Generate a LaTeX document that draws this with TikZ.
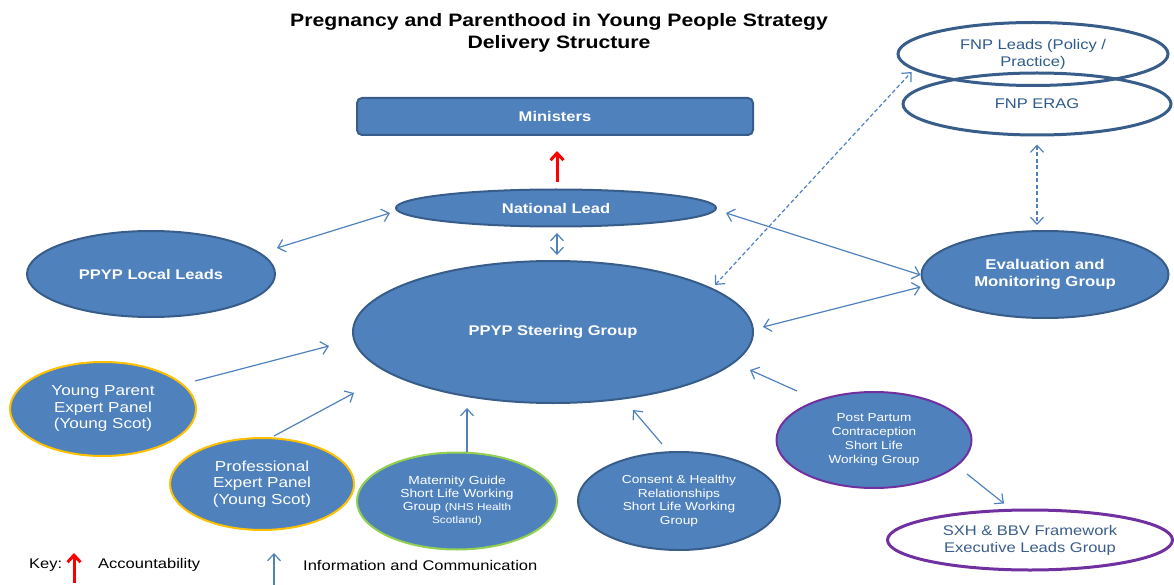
\documentclass[tikz,border=0pt]{standalone}
\usepackage{fontspec}
\setmainfont{Liberation Sans}[FakeStretch=1.18]
\usetikzlibrary{shapes.geometric,arrows.meta}
\definecolor{ppblue}{HTML}{4F81BD}
\definecolor{ppedge}{HTML}{385D8A}
\definecolor{pporange}{HTML}{FFC000}
\definecolor{ppgreen}{HTML}{92D050}
\definecolor{pppurple}{HTML}{7030A0}
\definecolor{pptext}{HTML}{2E5A8C}
\begin{document}
\begin{tikzpicture}[x=1pt,y=-1pt,
	blob/.style={ellipse,fill=ppblue,draw=ppedge,line width=2pt,text=white,align=center,inner sep=0pt},
	ring/.style={ellipse,draw=ppedge,line width=3pt,text=pptext,align=center,inner sep=0pt},
	info/.style={draw=ppblue,line width=1.2pt,-{Straight Barb[length=7pt,width=13pt]}},
	infoboth/.style={info,{Straight Barb[length=7pt,width=13pt]}-{Straight Barb[length=7pt,width=13pt]}},
	infodash/.style={infoboth,dash pattern=on 4pt off 2.5pt},
	account/.style={draw=red,line width=3pt,-{Straight Barb[length=7pt,width=13pt]}},
	keytext/.style={font=\fontsize{14}{16}\selectfont,anchor=west,inner sep=0pt}]
	\useasboundingbox (0,0) rectangle (1174,585);
	\node[font=\fontsize{18}{22}\selectfont\bfseries,align=center] (title) at (559,33)
	{Pregnancy and Parenthood in Young People Strategy\\Delivery Structure};
	% boxes
	\node[fill=ppblue,draw=ppedge,line width=2pt,rounded corners=5pt,text=white,
	minimum width=396pt,minimum height=37pt,font=\fontsize{14}{16}\selectfont\bfseries] (mins) at (555,116.5) {Ministers};
	\node[blob,minimum width=320pt,minimum height=37pt,font=\fontsize{14}{16}\selectfont\bfseries] (natlead) at (556,208) {National Lead};
	\node[blob,minimum width=400pt,minimum height=142pt,font=\fontsize{14}{16}\selectfont\bfseries] (steer) at (553,332) {PPYP Steering Group};
	\node[blob,minimum width=248pt,minimum height=86pt,font=\fontsize{14}{16}\selectfont\bfseries] (local) at (151,274) {PPYP Local Leads};
	\node[blob,minimum width=247pt,minimum height=87pt,font=\fontsize{14.2}{17}\selectfont\bfseries] (evalm) at (1045,274.5) {Evaluation and\\Monitoring Group};
	\node[ring,minimum width=270pt,minimum height=63pt,font=\fontsize{14}{17}\selectfont] (fnpl) at (1033,54) {FNP Leads (Policy /\\Practice)};
	\node[ring,minimum width=268pt,minimum height=62pt,font=\fontsize{14}{17}\selectfont] (erag) at (1037,104) {FNP ERAG};
	\node[blob,draw=pporange,minimum width=186pt,minimum height=94pt,font=\fontsize{14.5}{16.5}\selectfont] (yparent) at (103,409) {Young Parent\\Expert Panel\\(Young Scot)};
	\node[blob,draw=pporange,minimum width=184pt,minimum height=92pt,font=\fontsize{14.5}{16.5}\selectfont] (profx) at (262,484) {Professional\\Expert Panel\\(Young Scot)};
	\node[blob,draw=ppgreen,minimum width=200pt,minimum height=97pt,font=\fontsize{11.7}{13}\selectfont] (mat) at (457,501)
	{Maternity Guide\\Short Life Working\\Group {\fontsize{10}{13}\selectfont(NHS Health}\\{\fontsize{10}{13}\selectfont Scotland)}};
	\node[blob,minimum width=202pt,minimum height=98pt,font=\fontsize{11.6}{13.5}\selectfont] (consent) at (679,501) {Consent \& Healthy\\Relationships\\Short Life Working\\Group};
	\node[blob,draw=pppurple,minimum width=195pt,minimum height=96pt,font=\fontsize{11.5}{14}\selectfont] (postp) at (874,440) {Post Partum\\Contraception\\Short Life\\Working Group};
	\node[ring,draw=pppurple,text=ppedge,minimum width=285pt,minimum height=60pt,font=\fontsize{14}{17}\selectfont] (sxh) at (1030,540) {SXH \& BBV Framework\\Executive Leads Group};
	% links
	\draw[account] ([xshift=1pt,yshift=6.5pt]natlead.north) -- ([xshift=2pt,yshift=-15pt]mins.south);
	\draw[infoboth] ([xshift=1pt,yshift=26pt]local.east) -- ([xshift=-5pt,yshift=-5pt]natlead.west);
	\draw[infoboth] ([xshift=1pt,yshift=-5.5pt]natlead.south) -- ([xshift=4pt,yshift=5pt]steer.north);
	\draw[infoboth] ([xshift=9pt,yshift=-5pt]natlead.east) -- ([yshift=-0.5pt]evalm.west);
	\draw[infoboth] ([xshift=9pt,yshift=5pt]steer.east) -- ([yshift=-12.5pt]evalm.west);
	\draw[infodash] ([xshift=162pt,yshift=47pt]steer.center) -- ([xshift=15pt,yshift=-18pt]fnpl.west);
	\draw[infodash] ([yshift=-8pt]erag.south) -- ([xshift=-8pt,yshift=5pt]evalm.north);
	\draw[info] ([xshift=92pt,yshift=28pt]yparent.center) -- ([xshift=-23pt,yshift=-14pt]steer.west);
	\draw[info] ([xshift=12pt,yshift=1pt]profx.north) -- ([xshift=-199pt,yshift=-61pt]steer.center);
	\draw[info] ([xshift=10pt]mat.north) -- ([xshift=-86pt,yshift=-76pt]steer.center);
	\draw[info] ([xshift=-17pt,yshift=7pt]consent.north) -- ([xshift=80pt,yshift=-78pt]steer.center);
	\draw[info] ([xshift=-77pt,yshift=49pt]postp.center) -- ([xshift=197pt,yshift=-38pt]steer.center);
	\draw[info] ([xshift=93pt,yshift=-34pt]postp.center) -- ([xshift=-26pt,yshift=5pt]sxh.north);
	% key
	\node[keytext] (keylbl) at (29,565) {Key:};
	\coordinate (keyred) at (74,583);
	\draw[account] (keyred) -- ++(0,-30);
	\node[keytext] (keyacc) at (98,565) {Accountability};
	\coordinate (keyblue) at (274,586);
	\draw[info] (keyblue) -- ++(0,-33);
	\node[keytext] (keyinfo) at (303,565) {Information and Communication};
\end{tikzpicture}
\end{document}
